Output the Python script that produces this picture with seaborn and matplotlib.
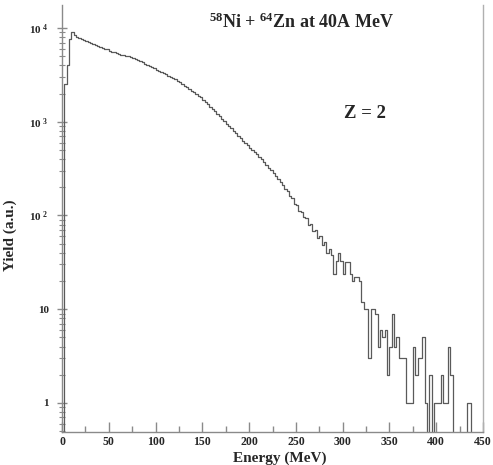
import numpy as np
import pandas as pd
import matplotlib
matplotlib.use("Agg")
import matplotlib.pyplot as plt
import seaborn as sns
from matplotlib.ticker import FixedLocator, MultipleLocator, LogLocator, NullFormatter

# energy spectrum of Z = 2, 2.5 MeV bins from 0 to 450 MeV
bin_width = 2.5
e_min, e_max = 0, 450
yields = [
    0, 2500, 4000, 7600, 9100, 8500, 8100, 7800, 7600, 7400,
    7250, 7100, 6900, 6750, 6600, 6450, 6300, 6150, 6000, 5900,
    5750, 5600, 5500, 5450, 5300, 5200, 5100, 5050, 5000, 4900,
    4800, 4650, 4550, 4400, 4300, 4150, 4050, 3950, 3800, 3700,
    3600, 3500, 3400, 3300, 3200, 3100, 3000, 2950, 2850, 2750,
    2650, 2500, 2430, 2340, 2240, 2140, 2070, 2000, 1900, 1820,
    1720, 1620, 1530, 1450, 1360, 1290, 1220, 1150, 1070, 1020,
    955, 900, 850, 800, 760, 710, 675, 630, 600, 560,
    525, 500, 480, 455, 425, 400, 372, 347, 324, 302,
    282, 263, 245, 226, 209, 193, 184, 160, 154, 134,
    130, 112, 110, 96, 94, 80, 82, 68, 70, 58,
    60, 48, 52, 40, 44, 38, 24, 33, 40, 33,
    24, 32, 32, 24, 20, 22, 22, 20, 12, 10,
    10, 3, 10, 10, 9, 4, 6, 5, 6, 2,
    4, 9, 4, 5, 3, 3, 3, 1, 1, 1,
    4, 2, 3, 3, 5, 1, 0, 2, 0, 1,
    1, 1, 2, 1, 1, 4, 2, 0, 0, 0,
    0, 0, 0, 1, 1, 0, 0, 0, 0, 0,
]
x_ticks = [0, 50, 100, 150, 200, 250, 300, 350, 400, 450]
y_ticks = [1, 10, 100, 1000, 10000]
y_tick_labels = ["1", "10", "10$^{\\ 2}$", "10$^{\\ 3}$", "10$^{\\ 4}$"]

centers = np.arange(e_min, e_max, bin_width) + bin_width / 2
# empty bins are drawn down below the bottom of the log axis
plot_yields = np.where(np.array(yields) > 0, yields, 0.01)
df = pd.DataFrame({"energy": centers, "yield": plot_yields})

sns.set_style("ticks")
plt.rcParams["font.family"] = ["Liberation Serif", "DejaVu Serif"]
plt.rcParams["font.weight"] = "bold"
plt.rcParams["mathtext.fontset"] = "custom"
plt.rcParams["mathtext.default"] = "regular"
plt.rcParams["mathtext.rm"] = "Liberation Serif:bold"

fig = plt.figure(figsize=(4.93, 4.65), dpi=100)
ax = fig.add_axes([62 / 493, 1 - 432 / 465, 421 / 493, 427 / 465])

sns.histplot(data=df, x="energy", weights="yield", binwidth=bin_width, binrange=(e_min, e_max),
             element="step", fill=False, color="#5a5a5a", linewidth=0.9,
             log_scale=(False, True), ax=ax)

ax.set_xlim(e_min, e_max)
ax.set_ylim(0.49, 17600)

# spines: left, bottom and a thin right frame line
ax.spines["top"].set_visible(False)
for side in ["left", "bottom", "right"]:
    ax.spines[side].set_color("#8a8a8a")
    ax.spines[side].set_linewidth(1.0)
ax.spines["right"].set_color("#b0b0b0")

ax.xaxis.set_major_locator(FixedLocator(x_ticks))
ax.xaxis.set_minor_locator(MultipleLocator(25))
ax.set_xticklabels([str(t) for t in x_ticks])
ax.tick_params(axis="x", which="major", direction="in", length=7, width=1,
               color="#8a8a8a", labelsize=8.5, pad=3)
ax.tick_params(axis="x", which="minor", direction="in", length=4, width=1, color="#8a8a8a")

ax.yaxis.set_major_locator(FixedLocator(y_ticks))
ax.set_yticklabels(y_tick_labels)
ax.yaxis.set_minor_locator(LogLocator(base=10, subs=np.arange(2, 10)))
ax.yaxis.set_minor_formatter(NullFormatter())
ax.tick_params(axis="y", which="major", direction="inout", length=7, width=1,
               color="#8a8a8a", labelsize=8, pad=6)
ax.tick_params(axis="y", which="minor", direction="inout", length=4, width=0.8, color="#8a8a8a")
ax.tick_params(right=False)

ax.set_xlabel("Energy (MeV)", fontsize=11, fontweight="bold")
ax.xaxis.set_label_coords((280 - 62) / 421, -0.045)
ax.set_ylabel("Yield (a.u.)", fontsize=11, fontweight="bold")
ax.yaxis.set_label_coords(-(62 - 17) / 421, (432 - 235) / 427)

fig.text(301 / 493, 1 - 22 / 465, "$^{58}$Ni + $^{64}$Zn at 40A MeV", ha="center", va="center",
         fontsize=13, fontweight="bold")
fig.text(365 / 493, 1 - 113 / 465, "Z = 2", ha="center", va="center",
         fontsize=13.5, fontweight="bold")

plt.savefig("out.png", dpi=100)
